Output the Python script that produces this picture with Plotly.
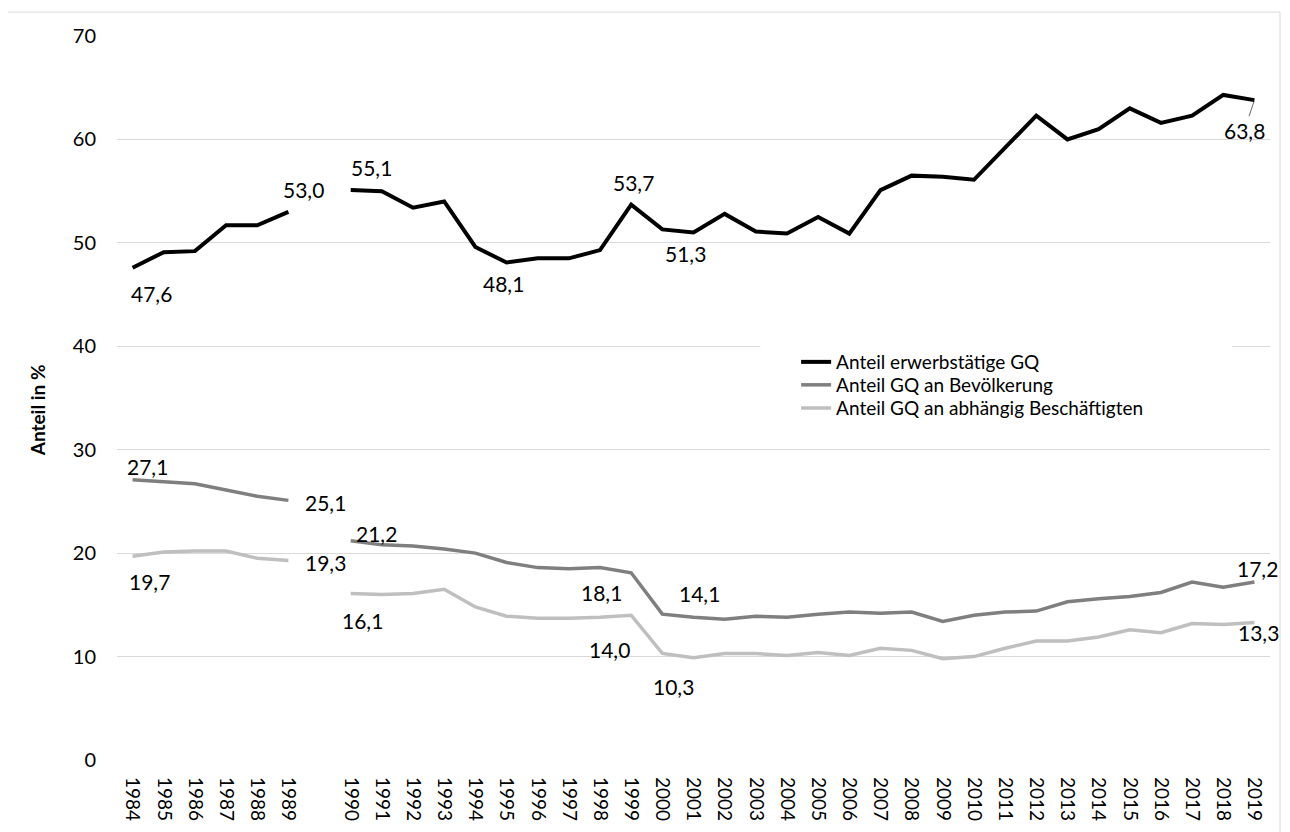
import plotly.graph_objects as go

categories = ["1984", "1985", "1986", "1987", "1988", "1989", " ",
              "1990", "1991", "1992", "1993", "1994", "1995", "1996", "1997", "1998", "1999",
              "2000", "2001", "2002", "2003", "2004", "2005", "2006", "2007", "2008", "2009",
              "2010", "2011", "2012", "2013", "2014", "2015", "2016", "2017", "2018", "2019"]

erwerbstaetige = [47.6, 49.1, 49.2, 51.7, 51.7, 53.0, None,
                  55.1, 55.0, 53.4, 54.0, 49.6, 48.1, 48.5, 48.5, 49.3, 53.7,
                  51.3, 51.0, 52.8, 51.1, 50.9, 52.5, 50.9, 55.1, 56.5, 56.4,
                  56.1, 59.2, 62.3, 60.0, 61.0, 63.0, 61.6, 62.3, 64.3, 63.8]

bevoelkerung = [27.1, 26.9, 26.7, 26.1, 25.5, 25.1, None,
                21.2, 20.8, 20.7, 20.4, 20.0, 19.1, 18.6, 18.5, 18.6, 18.1,
                14.1, 13.8, 13.6, 13.9, 13.8, 14.1, 14.3, 14.2, 14.3, 13.4,
                14.0, 14.3, 14.4, 15.3, 15.6, 15.8, 16.2, 17.2, 16.7, 17.2]

beschaeftigte = [19.7, 20.1, 20.2, 20.2, 19.5, 19.3, None,
                 16.1, 16.0, 16.1, 16.5, 14.8, 13.9, 13.7, 13.7, 13.8, 14.0,
                 10.3, 9.9, 10.3, 10.3, 10.1, 10.4, 10.1, 10.8, 10.6, 9.8,
                 10.0, 10.8, 11.5, 11.5, 11.9, 12.6, 12.3, 13.2, 13.1, 13.3]

series_names = ["Anteil erwerbstätige GQ", "Anteil GQ an Bevölkerung",
                "Anteil GQ an abhängig Beschäftigten"]
series_colors = ["#000000", "#7F7F7F", "#BFBFBF"]
series_widths = [4, 3.5, 3.5]

# labelled points: (series index, category, xshift px, yshift px)
label_points = [
    (0, "1984", 19, -26), (0, "1989", 15, 22), (0, "1990", 21, 23),
    (0, "1995", -3, -21), (0, "1999", 2, 22), (0, "2000", 23, -24),
    (1, "1984", 15, 13), (1, "1989", 37, -2), (1, "1990", 26, 7),
    (1, "1999", -30, -20), (1, "2000", 37, 21), (1, "2019", 3, 14),
    (2, "1984", 17, -25), (2, "1989", 37, -2), (2, "1990", 12, -27),
    (2, "1999", -22, -34), (2, "2000", 11, -33), (2, "2019", 4, -10),
]

all_series = [erwerbstaetige, bevoelkerung, beschaeftigte]
FONT = "Lato"
legend_ids = ["legend", "legend2", "legend3"]
legend_rows_y = [0.5497, 0.518, 0.486]

fig = go.Figure()
for vals, name, col, w, lid in zip(all_series, series_names, series_colors, series_widths, legend_ids):
    fig.add_trace(go.Scatter(x=categories, y=vals, name=name, mode="lines", legend=lid,
                             line=dict(color=col, width=w), connectgaps=False))

def fmt(v):
    return f"{v:.1f}".replace(".", ",")

annotations = []
for si, cat, dx, dy in label_points:
    idx = categories.index(cat)
    v = all_series[si][idx]
    annotations.append(dict(x=idx, y=v, xref="x", yref="y", text=fmt(v), showarrow=False,
                            xshift=dx, yshift=dy, font=dict(family=FONT, size=21, color="#000000")))

# last value of top series with leader line
last_idx = len(categories) - 1
v_last = erwerbstaetige[last_idx]
annotations.append(dict(x=last_idx, y=v_last, xref="x", yref="y", text=fmt(v_last), showarrow=True,
                        arrowhead=0, arrowwidth=0.8, arrowcolor="#404040", ax=-10, ay=30,
                        standoff=1, font=dict(family=FONT, size=21, color="#000000")))

annotations.append(dict(x=-0.0694, y=0.483, xref="paper", yref="paper", text="<b>Anteil in %</b>",
                        textangle=-90, showarrow=False, xanchor="center", yanchor="middle",
                        font=dict(family=FONT, size=19, color="#000000")))

legend_style = dict(x=0.589, xanchor="left", yanchor="middle", bgcolor="rgba(0,0,0,0)",
                    font=dict(family=FONT, size=19, color="#000000"), itemwidth=30,
                    borderwidth=0)
legends = {}
for lid, ly in zip(legend_ids, legend_rows_y):
    legends[lid] = dict(legend_style, y=ly)

fig.update_layout(
    width=1282, height=824,
    margin=dict(l=109, r=20, t=28, b=72),
    paper_bgcolor="white", plot_bgcolor="white",
    showlegend=True,
    annotations=annotations,
    shapes=[
        dict(type="rect", xref="paper", yref="paper", x0=-0.097, x1=1.0087, y0=-0.3, y1=1.033,
             line=dict(color="#D9D9D9", width=1), fillcolor="rgba(0,0,0,0)", layer="below"),
        # legend box background (hides part of the 40 gridline, as in the original)
        dict(type="rect", xref="paper", yref="paper", x0=0.558, x1=0.967, y0=0.46, y1=0.575,
             line=dict(width=0), fillcolor="white", layer="above"),
    ],
    **legends,
)

fig.update_xaxes(type="category", range=[-0.5, len(categories) - 0.5], tickangle=90,
                 showgrid=False, showline=False, ticks="", automargin=False,
                 tickfont=dict(family=FONT, size=19, color="#000000"),
                 ticklabelstandoff=16)
fig.update_yaxes(range=[0, 70], dtick=10, showgrid=True, gridcolor="#D9D9D9", gridwidth=1,
                 zeroline=False, showline=False, ticks="", automargin=False,
                 tickfont=dict(family=FONT, size=20, color="#000000"),
                 ticklabelstandoff=20)

fig.write_html("out.html")
